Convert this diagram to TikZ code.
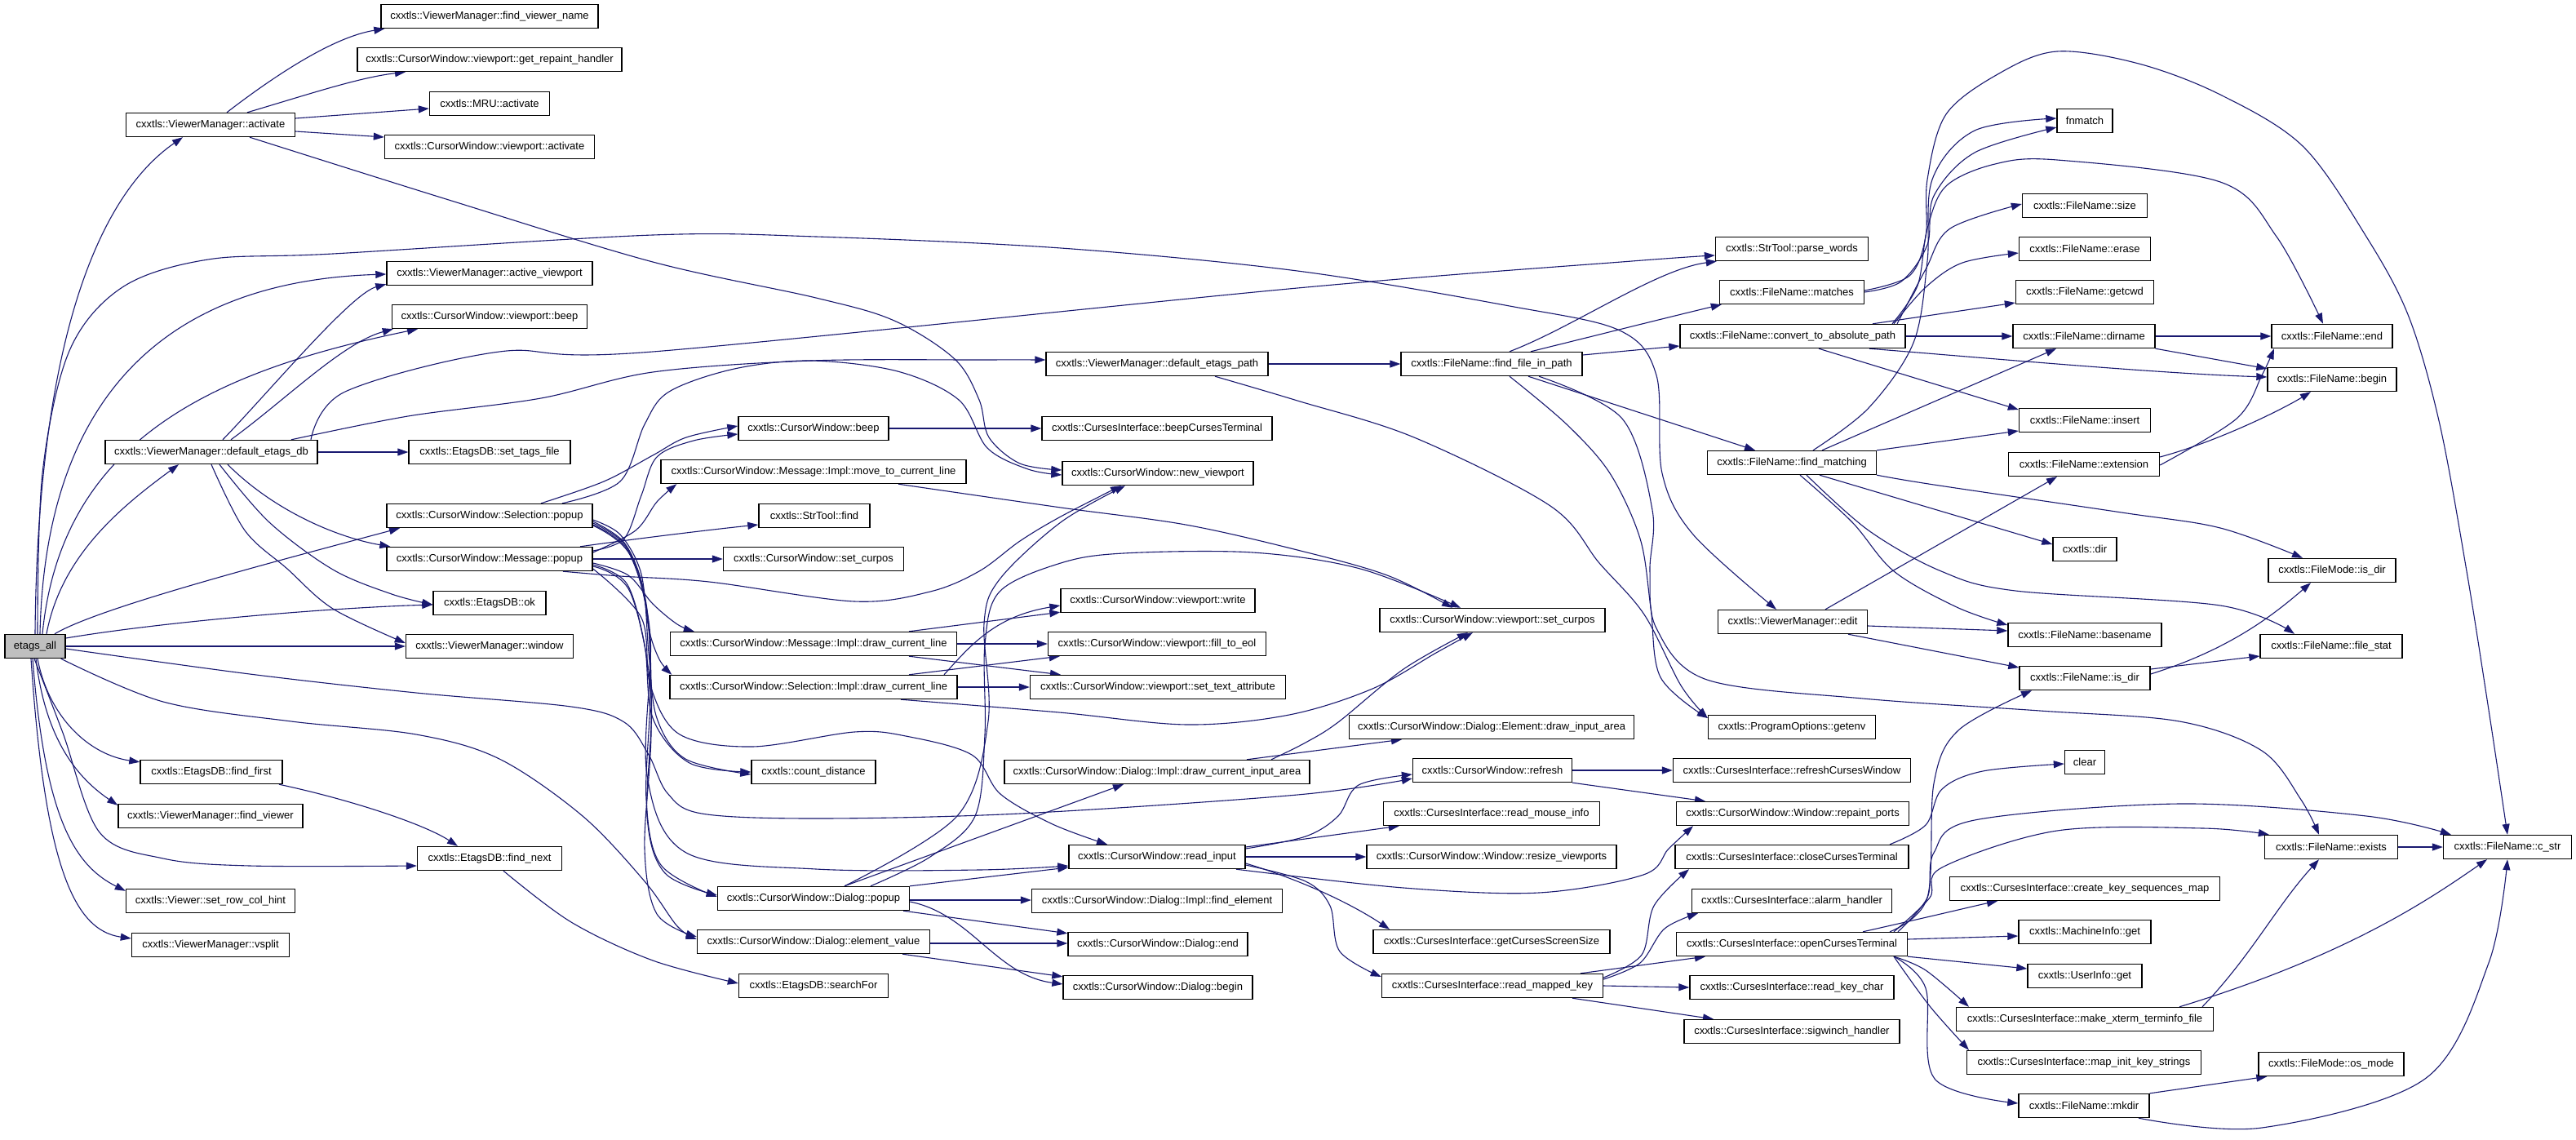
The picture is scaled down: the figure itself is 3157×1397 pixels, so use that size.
\documentclass[tikz,border=0pt]{standalone}
\usepackage{fontspec}
\setmainfont{Liberation Sans}
\usetikzlibrary{arrows.meta,backgrounds}
\definecolor{edgec}{RGB}{25,25,112}
\definecolor{rootfill}{RGB}{191,191,191}
\begin{document}
\begin{tikzpicture}[x=1pt,y=-1pt,
  box/.style={draw=black, line width=1.4pt, fill=white, minimum height=29pt, inner sep=0pt, font=\fontsize{13pt}{15pt}\selectfont},
  e/.style={draw=edgec, line width=1.1pt, -{Triangle[length=13pt,width=9pt]}},
  sm/.style={smooth, tension=0.55}]
\useasboundingbox (0,0) rectangle (3157,1397);
% ---------------- nodes
\node[box, fill=rootfill, minimum width=74pt] (etags_all) at (43,792) {etags\_all};
\node[box, minimum width=207pt] (vmActivate) at (258,153) {cxxtls::ViewerManager::activate};
\node[box, minimum width=260pt] (vmDefEtagsDb) at (259,554) {cxxtls::ViewerManager::default\_etags\_db};
\node[box, minimum width=174pt] (dbFindFirst) at (259,946) {cxxtls::EtagsDB::find\_first};
\node[box, minimum width=226pt] (vmFindViewer) at (258,1000) {cxxtls::ViewerManager::find\_viewer};
\node[box, minimum width=207pt] (vSetRowColHint) at (258,1104) {cxxtls::Viewer::set\_row\_col\_hint};
\node[box, minimum width=193pt] (vmVsplit) at (258,1158) {cxxtls::ViewerManager::vsplit};
\node[box, minimum width=266pt] (vmFindViewerName) at (600,20) {cxxtls::ViewerManager::find\_viewer\_name};
\node[box, minimum width=324pt] (vpGetRepaint) at (600,73) {cxxtls::CursorWindow::viewport::get\_repaint\_handler};
\node[box, minimum width=147pt] (mruActivate) at (600,127) {cxxtls::MRU::activate};
\node[box, minimum width=257pt] (vpActivate) at (600,180) {cxxtls::CursorWindow::viewport::activate};
\node[box, minimum width=252pt] (vmActiveViewport) at (600,335) {cxxtls::ViewerManager::active\_viewport};
\node[box, minimum width=239pt] (vpBeep) at (600,388) {cxxtls::CursorWindow::viewport::beep};
\node[box, minimum width=198pt] (dbSetTagsFile) at (600,554) {cxxtls::EtagsDB::set\_tags\_file};
\node[box, minimum width=252pt] (selPopup) at (600,632) {cxxtls::CursorWindow::Selection::popup};
\node[box, minimum width=252pt] (msgPopup) at (600,685) {cxxtls::CursorWindow::Message::popup};
\node[box, minimum width=138pt] (dbOk) at (600,739) {cxxtls::EtagsDB::ok};
\node[box, minimum width=205pt] (vmWindow) at (600,792) {cxxtls::ViewerManager::window};
\node[box, minimum width=177pt] (dbFindNext) at (600,1052) {cxxtls::EtagsDB::find\_next};
\node[box, minimum width=184pt] (cwBeep) at (997,525) {cxxtls::CursorWindow::beep};
\node[box, minimum width=374pt] (msgMoveTo) at (997,578) {cxxtls::CursorWindow::Message::Impl::move\_to\_current\_line};
\node[box, minimum width=136pt] (strFind) at (998,632) {cxxtls::StrTool::find};
\node[box, minimum width=221pt] (cwSetCurpos) at (997,685) {cxxtls::CursorWindow::set\_curpos};
\node[box, minimum width=351pt] (msgDraw) at (997,789) {cxxtls::CursorWindow::Message::Impl::draw\_current\_line};
\node[box, minimum width=352pt] (selDraw) at (997,842) {cxxtls::CursorWindow::Selection::Impl::draw\_current\_line};
\node[box, minimum width=152pt] (countDistance) at (997,946) {cxxtls::count\_distance};
\node[box, minimum width=235pt] (dlgPopup) at (997,1101) {cxxtls::CursorWindow::Dialog::popup};
\node[box, minimum width=285pt] (dlgElementValue) at (997,1154) {cxxtls::CursorWindow::Dialog::element\_value};
\node[box, minimum width=183pt] (dbSearchFor) at (997,1208) {cxxtls::EtagsDB::searchFor};
\node[box, minimum width=272pt] (vmDefEtagsPath) at (1418,446) {cxxtls::ViewerManager::default\_etags\_path};
\node[box, minimum width=282pt] (ciBeepCurses) at (1418,525) {cxxtls::CursesInterface::beepCursesTerminal};
\node[box, minimum width=234pt] (cwNewViewport) at (1419,580) {cxxtls::CursorWindow::new\_viewport};
\node[box, minimum width=238pt] (vpWrite) at (1419,736) {cxxtls::CursorWindow::viewport::write};
\node[box, minimum width=267pt] (vpFillToEol) at (1418,789) {cxxtls::CursorWindow::viewport::fill\_to\_eol};
\node[box, minimum width=313pt] (vpSetTextAttr) at (1419,842) {cxxtls::CursorWindow::viewport::set\_text\_attribute};
\node[box, minimum width=374pt] (dlgDrawInputArea) at (1418,946) {cxxtls::CursorWindow::Dialog::Impl::draw\_current\_input\_area};
\node[box, minimum width=216pt] (cwReadInput) at (1418,1050) {cxxtls::CursorWindow::read\_input};
\node[box, minimum width=307pt] (dlgFindElement) at (1418,1104) {cxxtls::CursorWindow::Dialog::Impl::find\_element};
\node[box, minimum width=220pt] (dlgEnd) at (1419,1157) {cxxtls::CursorWindow::Dialog::end};
\node[box, minimum width=232pt] (dlgBegin) at (1419,1210) {cxxtls::CursorWindow::Dialog::begin};
\node[box, minimum width=222pt] (fnFindFileInPath) at (1828,446) {cxxtls::FileName::find\_file\_in\_path};
\node[box, minimum width=276pt] (vpSetCurpos) at (1829,760) {cxxtls::CursorWindow::viewport::set\_curpos};
\node[box, minimum width=349pt] (elDrawInputArea) at (1828,891) {cxxtls::CursorWindow::Dialog::Element::draw\_input\_area};
\node[box, minimum width=195pt] (cwRefresh) at (1829,944) {cxxtls::CursorWindow::refresh};
\node[box, minimum width=265pt] (ciReadMouse) at (1828,997) {cxxtls::CursesInterface::read\_mouse\_info};
\node[box, minimum width=306pt] (winResize) at (1828,1050) {cxxtls::CursorWindow::Window::resize\_viewports};
\node[box, minimum width=290pt] (ciGetScreenSize) at (1828,1154) {cxxtls::CursesInterface::getCursesScreenSize};
\node[box, minimum width=271pt] (ciReadMappedKey) at (1829,1208) {cxxtls::CursesInterface::read\_mapped\_key};
\node[box, minimum width=187pt] (strParseWords) at (2196,305) {cxxtls::StrTool::parse\_words};
\node[box, minimum width=177pt] (fnMatches) at (2196,358) {cxxtls::FileName::matches};
\node[box, minimum width=276pt] (fnConvert) at (2197,412) {cxxtls::FileName::convert\_to\_absolute\_path};
\node[box, minimum width=207pt] (fnFindMatching) at (2196,567) {cxxtls::FileName::find\_matching};
\node[box, minimum width=183pt] (vmEdit) at (2197,762) {cxxtls::ViewerManager::edit};
\node[box, minimum width=205pt] (poGetenv) at (2196,891) {cxxtls::ProgramOptions::getenv};
\node[box, minimum width=291pt] (ciRefreshWin) at (2196,944) {cxxtls::CursesInterface::refreshCursesWindow};
\node[box, minimum width=285pt] (winRepaint) at (2197,997) {cxxtls::CursorWindow::Window::repaint\_ports};
\node[box, minimum width=286pt] (ciClose) at (2196,1050) {cxxtls::CursesInterface::closeCursesTerminal};
\node[box, minimum width=245pt] (ciAlarm) at (2196,1104) {cxxtls::CursesInterface::alarm\_handler};
\node[box, minimum width=283pt] (ciOpen) at (2196,1157) {cxxtls::CursesInterface::openCursesTerminal};
\node[box, minimum width=250pt] (ciReadKeyChar) at (2196,1210) {cxxtls::CursesInterface::read\_key\_char};
\node[box, minimum width=264pt] (ciSigwinch) at (2196,1264) {cxxtls::CursesInterface::sigwinch\_handler};
\node[box, minimum width=68pt] (fnmatchN) at (2555,148) {fnmatch};
\node[box, minimum width=153pt] (fnSize) at (2555,252) {cxxtls::FileName::size};
\node[box, minimum width=161pt] (fnErase) at (2555,305) {cxxtls::FileName::erase};
\node[box, minimum width=169pt] (fnGetcwd) at (2555,358) {cxxtls::FileName::getcwd};
\node[box, minimum width=174pt] (fnDirname) at (2554,412) {cxxtls::FileName::dirname};
\node[box, minimum width=161pt] (fnInsert) at (2555,515) {cxxtls::FileName::insert};
\node[box, minimum width=185pt] (fnExtension) at (2554,569) {cxxtls::FileName::extension};
\node[box, minimum width=78pt] (dirN) at (2555,673) {cxxtls::dir};
\node[box, minimum width=188pt] (fnBasename) at (2555,778) {cxxtls::FileName::basename};
\node[box, minimum width=160pt] (fnIsDir) at (2555,831) {cxxtls::FileName::is\_dir};
\node[box, minimum width=49pt] (clearN) at (2555,934) {clear};
\node[box, minimum width=331pt] (ciCreateKeySeq) at (2555,1089) {cxxtls::CursesInterface::create\_key\_sequences\_map};
\node[box, minimum width=162pt] (miGet) at (2555,1142) {cxxtls::MachineInfo::get};
\node[box, minimum width=140pt] (uiGet) at (2555,1196) {cxxtls::UserInfo::get};
\node[box, minimum width=315pt] (ciMakeXterm) at (2555,1249) {cxxtls::CursesInterface::make\_xterm\_terminfo\_file};
\node[box, minimum width=287pt] (ciMapInit) at (2554,1302) {cxxtls::CursesInterface::map\_init\_key\_strings};
\node[box, minimum width=160pt] (fnMkdir) at (2554,1355) {cxxtls::FileName::mkdir};
\node[box, minimum width=148pt] (fnEnd) at (2858,412) {cxxtls::FileName::end};
\node[box, minimum width=158pt] (fnBegin) at (2858,465) {cxxtls::FileName::begin};
\node[box, minimum width=156pt] (fmIsDir) at (2858,699) {cxxtls::FileMode::is\_dir};
\node[box, minimum width=174pt] (fnFileStat) at (2857,792) {cxxtls::FileName::file\_stat};
\node[box, minimum width=163pt] (fnExists) at (2857,1038) {cxxtls::FileName::exists};
\node[box, minimum width=178pt] (fmOsMode) at (2857,1304) {cxxtls::FileMode::os\_mode};
\node[box, minimum width=157pt] (fnCStr) at (3073,1038) {cxxtls::FileName::c\_str};
% ---------------- edges
\begin{pgfonlayer}{background}
\fill[white] (0,0) rectangle (3157,1397);
% etags_all
\draw[e] (etags_all.north) .. controls (46,420) and (120,240) .. ([xshift=-34]vmActivate.south);
\draw[e] ([xshift=6]etags_all.north) .. controls (55,500) and (190,345) .. ([yshift=-1]vmActiveViewport.west);
\draw[e] ([xshift=9]etags_all.north) .. controls (75,540) and (260,455) .. ([xshift=-88]vpBeep.south);
\draw[e] ([xshift=14]etags_all.north) .. controls (75,680) and (150,620) .. ([xshift=-40]vmDefEtagsDb.south);
\draw[e] ([xshift=24]etags_all.north) .. controls (120,745) and (330,690) .. ([xshift=-110]selPopup.south);
\draw[e] plot[sm] coordinates {([xshift=3]etags_all.north) (52,580) (85,430) (150,352) (255,318) (408,311) (800,288) (1000,290) (1300,304) (1590,332) (1850,375) (1985,405) (2030,460) (2037,580) (2075,655) ([xshift=-20]vmEdit.north)};
\draw[e] ([yshift=10]etags_all.east) .. controls (200,762) and (400,745) .. ([yshift=-2]dbOk.west);
\draw[e] (etags_all.east) -- (vmWindow.west);
\draw[e] plot[sm] coordinates {([yshift=-3]etags_all.east) (306,826) (510,849) (700,866) (765,885) (795,925) (818,972) (860,997) (1000,1003) (1250,997) (1590,974) ([yshift=-10]cwRefresh.west)};
\draw[e] plot[sm] coordinates {([xshift=-6]etags_all.south east) (200,860) (357,884) (510,900) (612,930) (714,1000) (790,1080) (830,1135) ([yshift=3]dlgElementValue.west)};
\draw[e] ([xshift=3]etags_all.south) .. controls (60,880) and (110,925) .. ([yshift=-3]dbFindFirst.north west);
\draw[e] ([xshift=1]etags_all.south) .. controls (55,900) and (90,950) .. ([yshift=-2]vmFindViewer.north west);
\draw[e] plot[sm] coordinates {([xshift=-1]etags_all.south) (77,898) (122,1020) (200,1052) (306,1061) ([yshift=-9]dbFindNext.west)};
\draw[e] ([xshift=-3]etags_all.south) .. controls (55,1000) and (90,1060) .. ([yshift=-3]vSetRowColHint.north west);
\draw[e] ([xshift=-5]etags_all.south) .. controls (55,1060) and (90,1140) .. ([yshift=8]vmVsplit.west);
% ViewerManager::activate
\draw[e] ([xshift=20]vmActivate.north) .. controls (340,90) and (410,45) .. ([xshift=5]vmFindViewerName.south west);
\draw[e] ([xshift=45]vmActivate.north) .. controls (380,115) and (440,95) .. ([xshift=-103]vpGetRepaint.south);
\draw[e] ([yshift=8]vmActivate.east) -- ([yshift=-6]mruActivate.west);
\draw[e] ([yshift=-8]vmActivate.east) -- ([yshift=12]vpActivate.west);
\draw[e] plot[sm] coordinates {([xshift=48]vmActivate.south) (550,245) (800,321) (1000,365) (1096,393) (1170,440) (1200,490) (1212,536) (1250,568) ([yshift=4]cwNewViewport.west)};
% default_etags_db
\draw[e] ([xshift=14]vmDefEtagsDb.north) .. controls (330,480) and (430,360) .. ([yshift=2]vmActiveViewport.south west);
\draw[e] ([xshift=24]vmDefEtagsDb.north) .. controls (350,490) and (420,420) .. ([xshift=2]vpBeep.south west);
\draw[e] (vmDefEtagsDb.east) -- (dbSetTagsFile.west);
\draw[e] ([xshift=20]vmDefEtagsDb.south) .. controls (340,630) and (420,660) .. ([xshift=5]msgPopup.north west);
\draw[e] plot[sm] coordinates {([xshift=10]vmDefEtagsDb.south) (330,640) (408,698) (480,728) ([yshift=-2]dbOk.west)};
\draw[e] plot[sm] coordinates {(vmDefEtagsDb.south) (300,650) (352,697) (408,746) ([yshift=4]vmWindow.west)};
\draw[e] plot[sm] coordinates {([xshift=98]vmDefEtagsDb.north) (500,510) (663,488) (800,456) (994,442) (1200,441) ([yshift=5]vmDefEtagsPath.west)};
\draw[e] plot[sm] coordinates {([xshift=122]vmDefEtagsDb.north) (423,480) (612,431) (800,431) (1590,353) (2000,320) ([yshift=-8]strParseWords.west)};
% Selection::popup
\draw[e] plot[sm] coordinates {([xshift=63]selPopup.north) (740,590) (800,558) (841,536) ([yshift=3]cwBeep.west)};
\draw[e] plot[sm] coordinates {([xshift=89]selPopup.north) (760,590) (790,520) (820,480) (900,452) (994,442) (1100,455) (1175,490) (1210,549) (1260,575) ([yshift=-2]cwNewViewport.west)};
\draw[e] plot[sm] coordinates {([yshift=-5]selPopup.east) (760,655) (785,700) (795,770) (808,808) ([xshift=3]selDraw.north west)};
\draw[e] plot[sm] coordinates {([yshift=-7]selPopup.east) (765,665) (788,720) (795,800) (805,880) (840,930) ([yshift=-3]countDistance.west)};
\draw[e] plot[sm] coordinates {([yshift=-9]selPopup.east) (768,670) (792,740) (797,850) (792,980) (810,1060) ([yshift=2]dlgPopup.west)};
\draw[e] plot[sm] coordinates {([yshift=-11]selPopup.east) (770,675) (794,760) (798,900) (790,1040) (805,1120) ([yshift=6]dlgElementValue.west)};
\draw[e] plot[sm] coordinates {([yshift=-12]selPopup.east) (772,680) (797,780) (793,950) (841,1045) (1000,1065) (1200,1066) ([yshift=-11]cwReadInput.west)};
% Message::popup
\draw[e] plot[sm] coordinates {([yshift=10]msgPopup.east) (765,660) (786,607) (805,560) (850,540) ([yshift=-7]cwBeep.west)};
\draw[e] plot[sm] coordinates {([yshift=8]msgPopup.east) (779,650) (805,615) ([xshift=20]msgMoveTo.south west)};
\draw[e] ([xshift=111]msgPopup.north) .. controls (780,660) and (880,648) .. ([yshift=-11]strFind.west);
\draw[e] (msgPopup.east) -- (cwSetCurpos.west);
\draw[e] plot[sm] coordinates {([yshift=-5]msgPopup.east) (770,705) (800,740) (830,765) ([xshift=30]msgDraw.north west)};
\draw[e] plot[sm] coordinates {([yshift=-7]msgPopup.east) (768,715) (790,790) (800,880) (845,935) (countDistance.west)};
\draw[e] plot[sm] coordinates {([yshift=-9]msgPopup.east) (772,725) (798,850) (793,1000) (815,1070) ([yshift=4]dlgPopup.west)};
\draw[e] plot[sm] coordinates {([xshift=90]msgPopup.south) (760,706) (869,713) (1047,737) (1140,725) (1200,700) (1250,663) (1300,633) ([xshift=-45]cwNewViewport.south)};
\draw[e] plot[sm] coordinates {([yshift=-12]msgPopup.east) (786,757) (797,840) (833,900) (922,915) (1047,897) (1110,902) (1191,925) (1226,973) (1290,1010) ([xshift=-61]cwReadInput.north)};
% rank 3
\draw[e] (cwBeep.east) -- (ciBeepCurses.west);
\draw[e] plot[sm] coordinates {([xshift=104]msgMoveTo.south) (1300,622) (1453,643) (1590,674) (1700,705) ([xshift=-49]vpSetCurpos.north)};
\draw[e] ([xshift=117]msgDraw.north) -- ([yshift=1]vpWrite.south west);
\draw[e] ([xshift=160]selDraw.north) .. controls (1190,790) and (1220,755) .. ([yshift=-6]vpWrite.west);
\draw[e] (msgDraw.east) -- (vpFillToEol.west);
\draw[e] ([xshift=117]selDraw.north) -- ([xshift=15]vpFillToEol.south west);
\draw[e] (selDraw.east) -- (vpSetTextAttr.west);
\draw[e] ([xshift=117]msgDraw.south) -- ([xshift=-119]vpSetTextAttr.north);
\draw[e] plot[sm] coordinates {([xshift=107]selDraw.south) (1298,873) (1455,888) (1580,876) (1682,844) (1760,800) ([xshift=-24]vpSetCurpos.south)};
\draw[e] plot[sm] coordinates {([xshift=140]dlgDrawInputArea.north) (1600,910) (1640,885) (1720,820) ([xshift=-30]vpSetCurpos.south)};
\draw[e] plot[sm] coordinates {([xshift=70]dlgPopup.north) (1140,1050) (1195,1000) (1207,900) (1207,790) (1225,725) (1300,690) (1377,678) (1535,677) (1667,697) ([xshift=-39]vpSetCurpos.north)};
\draw[e] plot[sm] coordinates {([xshift=38]dlgPopup.north) (1173,1000) (1211,884) (1206,764) (1225,710) (1300,640) ([xshift=-40]cwNewViewport.south)};
\draw[e] ([xshift=38]dlgPopup.north) -- ([xshift=-41]dlgDrawInputArea.south);
\draw[e] (dlgPopup.north east) -- ([yshift=-13]cwReadInput.west);
\draw[e] ([yshift=-2]dlgPopup.east) -- ([yshift=1]dlgFindElement.west);
\draw[e] ([xshift=-8]dlgPopup.south east) -- ([yshift=-2]dlgEnd.north west);
\draw[e] ([yshift=-4]dlgPopup.east) .. controls (1190,1120) and (1220,1195) .. ([yshift=4]dlgBegin.west);
\draw[e] ([yshift=-2]dlgElementValue.east) -- ([yshift=1]dlgEnd.west);
\draw[e] ([xshift=-34]dlgElementValue.south east) -- ([yshift=-2]dlgBegin.north west);
\draw[e] ([xshift=83]dbFindFirst.south) .. controls (430,980) and (520,1010) .. ([xshift=-39]dbFindNext.north);
\draw[e] plot[sm] coordinates {([xshift=17]dbFindNext.south) (700,1130) (800,1177) ([yshift=3]dbSearchFor.west)};
% rank 4
\draw[e] (vmDefEtagsPath.east) -- (fnFindFileInPath.west);
\draw[e] plot[sm] coordinates {([xshift=71]vmDefEtagsPath.south) (1590,491) (1733,536) (1900,620) (1960,690) (2015,753) (2060,840) ([yshift=11]poGetenv.west)};
\draw[e] plot[sm] coordinates {([yshift=10]cwReadInput.east) (1600,1025) (1640,1000) (1665,962) ([yshift=-5]cwRefresh.west)};
\draw[e] ([yshift=12]cwReadInput.east) -- ([xshift=20]ciReadMouse.south west);
\draw[e] (cwReadInput.east) -- (winResize.west);
\draw[e] plot[sm] coordinates {([xshift=97]cwReadInput.south) (1720,1088) (1886,1094) (2014,1072) (2045,1040) ([xshift=-122]winRepaint.south)};
\draw[e] ([yshift=-8]cwReadInput.east) .. controls (1600,1080) and (1660,1110) .. ([xshift=-125]ciGetScreenSize.north);
\draw[e] plot[sm] coordinates {([yshift=-10]cwReadInput.east) (1600,1080) (1630,1110) (1642,1166) ([yshift=11]ciReadMappedKey.west)};
\draw[e] ([xshift=110]dlgDrawInputArea.north) -- ([xshift=-110]elDrawInputArea.south);
% rank 5
\draw[e] ([xshift=22]fnFindFileInPath.north) .. controls (1930,400) and (2030,330) .. ([xshift=2]strParseWords.south west);
\draw[e] ([xshift=48]fnFindFileInPath.north) .. controls (1960,410) and (2060,385) .. ([xshift=3]fnMatches.south west);
\draw[e] ([yshift=11]fnFindFileInPath.east) -- ([yshift=-12]fnConvert.west);
\draw[e] ([xshift=45]fnFindFileInPath.south) -- ([xshift=-45]fnFindMatching.north);
\draw[e] plot[sm] coordinates {([xshift=22]fnFindFileInPath.south) (1920,520) (1973,580) (2010,660) (2023,744) (2035,830) ([yshift=11]poGetenv.west)};
\draw[e] plot[sm] coordinates {([xshift=58]fnFindFileInPath.south) (1988,513) (2025,625) (2022,700) (2030,770) (2092,833) (2283,856) (2500,871) (2671,884) (2772,920) (2820,980) ([xshift=-15]fnExists.north)};
\draw[e] (cwRefresh.east) -- (ciRefreshWin.west);
\draw[e] (cwRefresh.south east) -- ([xshift=-107]winRepaint.north);
\draw[e] plot[sm] coordinates {([yshift=10]ciReadMappedKey.east) (2012,1170) (2027,1110) ([xshift=-126]ciClose.south)};
\draw[e] plot[sm] coordinates {([yshift=8]ciReadMappedKey.east) (2010,1180) (2040,1138) ([xshift=-115]ciAlarm.south)};
\draw[e] ([xshift=108]ciReadMappedKey.north) -- ([xshift=-106]ciOpen.south);
\draw[e] (ciReadMappedKey.east) -- (ciReadKeyChar.west);
\draw[e] ([xshift=98]ciReadMappedKey.south) -- ([xshift=-96]ciSigwinch.north);
% rank 6
\draw[e] plot[sm] coordinates {(fnMatches.east) (2330,345) (2362,300) (2370,240) (2420,187) ([yshift=-8]fnmatchN.west)};
\draw[e] plot[sm] coordinates {([xshift=26]fnFindMatching.north) (2290,500) (2345,420) (2362,320) (2368,220) (2420,160) ([yshift=3]fnmatchN.west)};
\draw[e] plot[sm] coordinates {([yshift=2]fnMatches.east) (2340,338) (2360,290) (2362,220) (2385,140) (2450,90) (2521,63) (2621,78) (2721,116) (2822,179) (2900,290) (2952,388) (2990,520) (3023,700) (3050,870) (fnCStr.north)};
\draw[e] plot[sm] coordinates {([xshift=122]fnConvert.north) (2350,350) (2362,280) (2385,228) (2445,201) (2521,196) (2721,223) (2790,290) ([xshift=-11]fnEnd.north)};
\draw[e] plot[sm] coordinates {([xshift=128]fnConvert.north) (2360,330) (2390,280) ([yshift=2]fnSize.west)};
\draw[e] plot[sm] coordinates {([xshift=124]fnConvert.north) (2360,352) (2405,322) ([yshift=-5]fnErase.west)};
\draw[e] ([xshift=98]fnConvert.north) -- ([yshift=-13]fnGetcwd.west);
\draw[e] (fnConvert.east) -- (fnDirname.west);
\draw[e] ([xshift=94]fnConvert.south) .. controls (2450,440) and (2650,458) .. ([yshift=3]fnBegin.west);
\draw[e] ([xshift=32]fnConvert.south) -- ([yshift=13]fnInsert.west);
\draw[e] ([xshift=37]fnFindMatching.north) -- ([xshift=-34]fnDirname.south);
\draw[e] (fnFindMatching.north east) -- ([yshift=-13]fnInsert.west);
\draw[e] plot[sm] coordinates {(fnFindMatching.south east) (2370,594) (2600,628) (2721,647) ([xshift=-36]fmIsDir.north)};
\draw[e] ([xshift=34]fnFindMatching.south) -- ([yshift=6]dirN.west);
\draw[e] plot[sm] coordinates {([xshift=10]fnFindMatching.south) (2270,640) (2321,700) (2398,744) ([yshift=12]fnBasename.west)};
\draw[e] plot[sm] coordinates {([xshift=18]fnFindMatching.south) (2290,650) (2379,700) (2470,724) (2721,742) ([xshift=-45]fnFileStat.north)};
\draw[e] ([xshift=40]vmEdit.north) -- ([xshift=-33]fnExtension.south);
\draw[e] ([yshift=-5]vmEdit.east) -- ([yshift=5]fnBasename.west);
\draw[e] ([xshift=68]vmEdit.south) -- ([yshift=13]fnIsDir.west);
\draw[e] plot[sm] coordinates {([xshift=120]ciClose.north) (2360,1011) (2380,967) (2430,945) ([yshift=-2]clearN.west)};
\draw[e] ([xshift=87]ciOpen.north) .. controls (2380,1120) and (2420,1110) .. ([xshift=-107]ciCreateKeySeq.south);
\draw[e] ([yshift=6]ciOpen.east) -- ([yshift=-5]miGet.west);
\draw[e] (ciOpen.south east) -- ([yshift=9]uiGet.west);
\draw[e] plot[sm] coordinates {([xshift=125]ciOpen.south) (2360,1189) ([xshift=-142]ciMakeXterm.north)};
\draw[e] plot[sm] coordinates {([xshift=125]ciOpen.south) (2365,1233) ([xshift=-141]ciMapInit.north)};
\draw[e] plot[sm] coordinates {([xshift=125]ciOpen.south) (2360,1211) (2371,1322) ([yshift=3]fnMkdir.west)};
\draw[e] plot[sm] coordinates {([xshift=120]ciOpen.north) (2362,1100) (2370,960) (2400,895) ([xshift=-65]fnIsDir.south)};
\draw[e] plot[sm] coordinates {([xshift=125]ciOpen.north) (2365,1100) (2380,1063) (2521,1018) (2700,1015) ([xshift=6]fnExists.north west)};
\draw[e] plot[sm] coordinates {([xshift=130]ciOpen.north) (2362,1100) (2370,1045) (2420,1005) (2671,985) (2900,1000) ([xshift=10]fnCStr.north west)};
\draw[e] ([xshift=144]ciMakeXterm.north) .. controls (2760,1170) and (2790,1110) .. ([xshift=-15]fnExists.south);
\draw[e] ([xshift=116]ciMakeXterm.north) .. controls (2880,1170) and (2980,1100) .. ([xshift=-25]fnCStr.south);
\draw[e] (fnMkdir.north east) -- ([xshift=11]fmOsMode.south west);
\draw[e] plot[sm] coordinates {([xshift=67]fnMkdir.south) (2772,1382) (2972,1322) (3050,1180) (fnCStr.south)};
\draw[e] (fnExists.east) -- (fnCStr.west);
\draw[e] ([yshift=5]fnIsDir.east) .. controls (2736,795) and (2790,750) .. ([xshift=-26]fmIsDir.south);
\draw[e] ([yshift=11]fnIsDir.east) -- ([yshift=-12]fnFileStat.west);
\draw[e] (fnDirname.east) -- (fnEnd.west);
\draw[e] (fnDirname.south east) -- ([yshift=-2]fnBegin.north west);
\draw[e] plot[sm] coordinates {([yshift=-1]fnExtension.east) (2741,513) (2772,460) ([xshift=-71]fnEnd.south)};
\draw[e] ([yshift=9]fnExtension.east) .. controls (2721,540) and (2800,500) .. ([xshift=-26]fnBegin.south);
\end{pgfonlayer}
\end{tikzpicture}
\end{document}
